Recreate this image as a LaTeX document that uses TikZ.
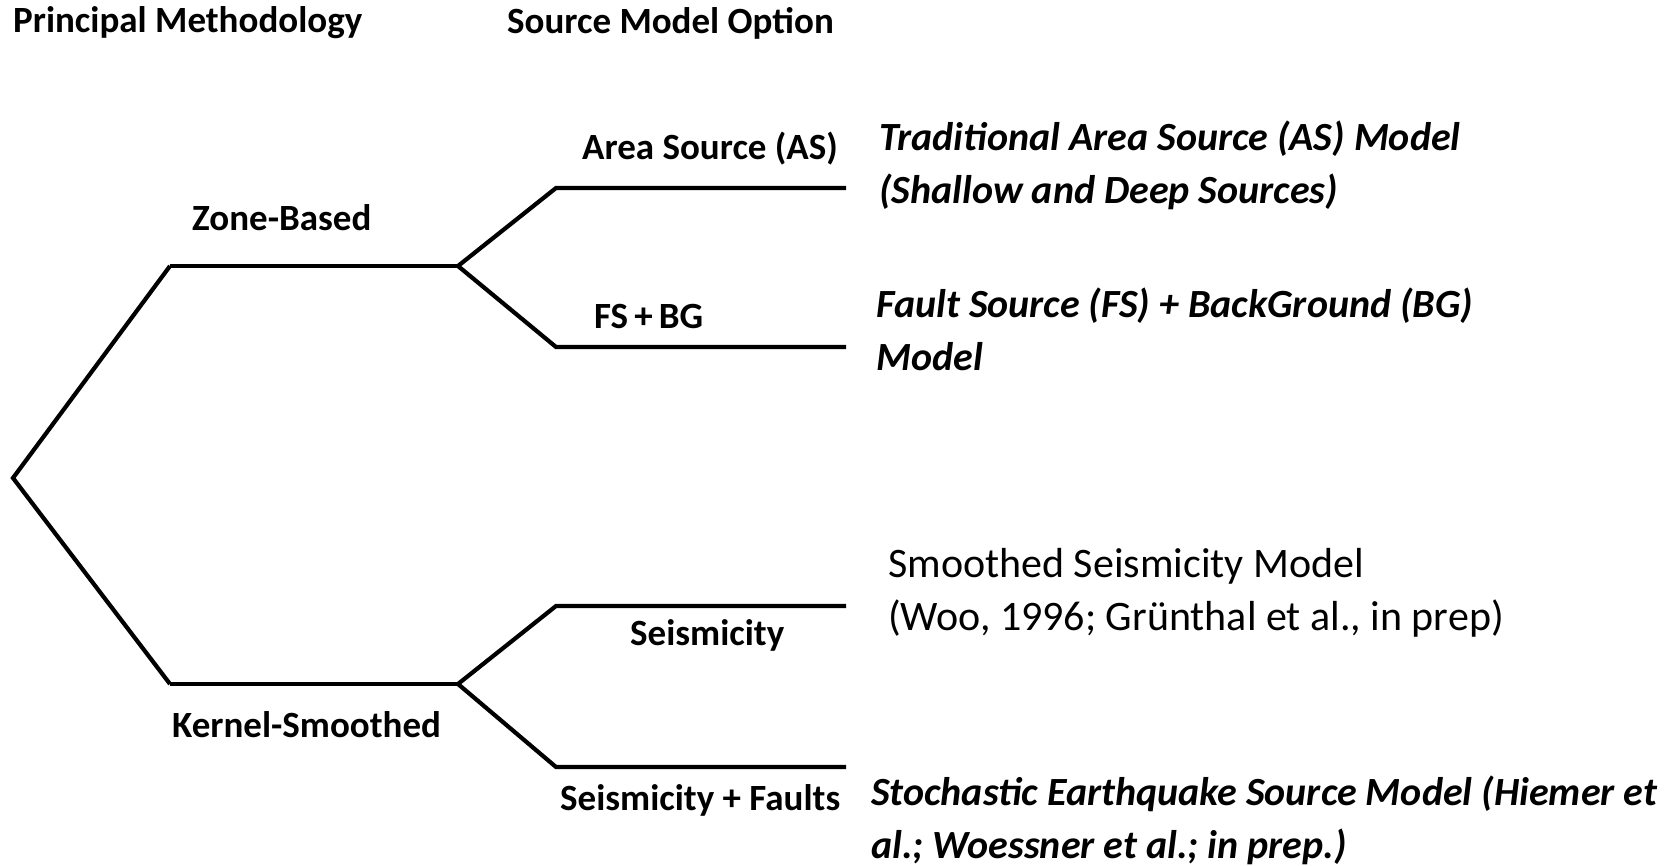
\documentclass[tikz,border=0pt]{standalone}
\usepackage{fontspec}
\setmainfont{Carlito}
\begin{document}
\begin{tikzpicture}[x=1pt,y=-1pt,
  branch/.style={line width=4.2pt, line join=miter},
  lbl/.style={inner sep=0pt, anchor=west, font=\bfseries\fontsize{37}{42}\selectfont},
  desc/.style={inner sep=0pt, anchor=west, align=left, font=\fontsize{42}{53}\selectfont},
  descit/.style={desc, font=\bfseries\itshape\fontsize{40}{53}\selectfont}]
\useasboundingbox (0,0) rectangle (1669,866);
% tree points
\coordinate (root) at (13,478);
\coordinate (zc) at (170,266);
\coordinate (zb) at (458,266);
\coordinate (asc) at (556,188);
\coordinate (ase) at (846,188);
\coordinate (fsc) at (556,347);
\coordinate (fse) at (846,347);
\coordinate (kc) at (170,684);
\coordinate (kb) at (458,684);
\coordinate (sc) at (556,606);
\coordinate (se) at (846,606);
\coordinate (sfc) at (556,767);
\coordinate (sfe) at (846,767);
\draw[branch] (zc) -- (root) -- (kc);
\draw[branch] (zc) -- (zb);
\draw[branch] (kc) -- (kb);
\draw[branch] (ase) -- (asc) -- (zb) -- (fsc) -- (fse);
\draw[branch] (se) -- (sc) -- (kb) -- (sfc) -- (sfe);
% headings and branch labels
\node[lbl] (h1) at (13,23) {Principal Methodology};
\node[lbl] (h2) at (507,23) {Source Model Option};
\node[lbl] (zl) at (192,218) {Zone-Based};
\node[lbl] (kl) at (172,725) {Kernel-Smoothed};
\node[lbl] (asl) at (582,149) {Area Source (AS)};
\node[lbl] (fsl) at (594,316) {FS\,+\,BG};
\node[lbl] (sl) at (630,635) {Seismicity};
\node[lbl] (sfl) at (560,800) {Seismicity + Faults};
% model descriptions
\node[descit] (d1) at (879,165) {Traditional Area Source (AS) Model\\(Shallow and Deep Sources)};
\node[descit] (d2) at (876,329) {Fault Source (FS) + BackGround (BG)\\Model};
\node[desc] (d3) at (888,593) {Smoothed Seismicity Model\\(Woo, 1996; Grünthal et al., in prep)};
\node[descit] (d4) at (871,820) {Stochastic Earthquake Source Model (Hiemer et\\al.; Woessner et al.; in prep.)};
\end{tikzpicture}
\end{document}
